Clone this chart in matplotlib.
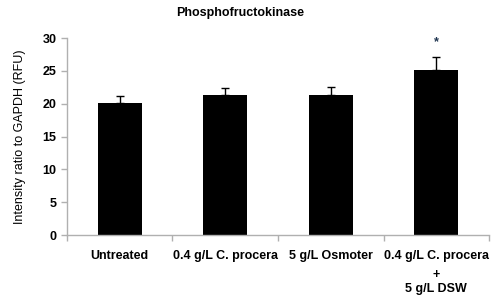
import matplotlib.pyplot as plt
import matplotlib.transforms as mtransforms
import numpy as np

plt.rcParams['font.family'] = ['Liberation Sans', 'DejaVu Sans']

categories = ['Untreated', '0.4 g/L C. procera', '5 g/L Osmoter', '0.4 g/L C. procera']
extra_lines = ['', '', '', '+\n5 g/L DSW']
values = [20.1, 21.4, 21.3, 25.1]
errors = [1.1, 1.0, 1.2, 2.0]
significant = [False, False, False, True]

fig = plt.figure(figsize=(4.96, 2.98), dpi=100)
ax = fig.add_axes([0.135, 0.211, 0.851, 0.661])

x = np.arange(len(categories))
ax.bar(x, values, width=0.42, color='black', zorder=2)
ax.errorbar(x, values, yerr=[np.zeros(len(errors)), errors], fmt='none',
            ecolor='black', elinewidth=1, capsize=3, capthick=1, zorder=3)
for xi, v, e, s in zip(x, values, errors, significant):
    if s:
        ax.text(xi, v + e + 2.3, '*', ha='center', va='center', fontsize=9,
                fontweight='bold', color='#1f3550')

ax.set_xlim(-0.5, len(categories) - 0.5)
ax.set_ylim(0, 30)
ax.set_yticks(range(0, 31, 5))
ax.set_xticks(x)
ax.set_xticklabels(categories, fontsize=9, fontweight='bold')
ax.set_xticks(np.arange(-0.5, len(categories)), minor=True)
ax.tick_params(axis='x', which='major', length=0, pad=11)
ax.tick_params(axis='x', which='minor', length=4, color='#b0b0b0', width=1)
ax.tick_params(axis='y', length=4, color='#b0b0b0', width=1, labelsize=9)
for lbl in ax.get_yticklabels():
    lbl.set_fontweight('bold')

# continuation lines under the last label
trans = mtransforms.blended_transform_factory(ax.transData, fig.transFigure)
for xi, extra in zip(x, extra_lines):
    if extra:
        ax.text(xi, 0.054, extra, transform=trans, ha='center', va='center',
                fontsize=9, fontweight='bold', linespacing=1.2)

for side in ['top', 'right']:
    ax.spines[side].set_visible(False)
for side in ['left', 'bottom']:
    ax.spines[side].set_color('#b0b0b0')
    ax.spines[side].set_linewidth(1)

ax.set_ylabel('Intensity ratio to GAPDH (RFU)', fontsize=9, labelpad=12)
fig.text(0.484, 0.955, 'Phosphofructokinase', ha='center', va='center',
         fontsize=9, fontweight='bold')

fig.savefig('out.png', dpi=100)
